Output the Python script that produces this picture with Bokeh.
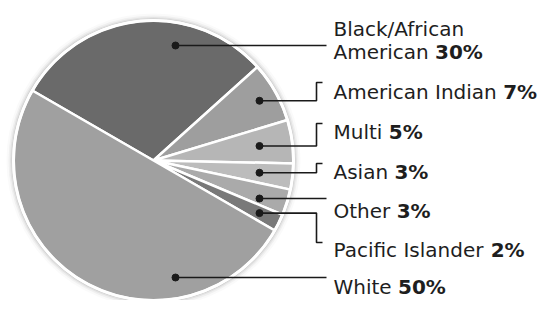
import math
from bokeh.plotting import figure
from bokeh.models import Range1d
from bokeh.embed import file_html
from bokeh.resources import INLINE
from bokeh.core.properties import value

# ---- data ----
categories = ["Black/African American", "American Indian", "Multi", "Asian",
              "Other", "Pacific Islander", "White"]
name_lines = [["Black/African", "American"], ["American Indian"], ["Multi"],
              ["Asian"], ["Other"], ["Pacific Islander"], ["White"]]
percents = [30, 7, 5, 3, 3, 2, 50]
shades = ["#6a6a6a", "#9e9e9e", "#b6b6b6", "#bcbcbc", "#aaaaaa", "#797979", "#a0a0a0"]

# ---- layout (canvas pixel coordinates, y downward) ----
W, H = 539, 300
CX, CY, R = 153, 160, 140
START_DEG = 150.0
TEXT_X = 333
FS = 20
tick_y = [45, 82, 123, 163, 198, 242, 277]
base_y = [[28, 51], [91], [131], [171], [210], [249], [286]]

def Y(py):
    return H - py

# DejaVu Sans advance widths (units / 2048)
ADV = {" ": 651, "A": 1401, "B": 1405, "I": 604, "M": 1767, "O": 1612, "P": 1235,
       "W": 2025, "a": 1255, "c": 1126, "d": 1300, "e": 1260, "f": 721, "h": 1298,
       "i": 569, "k": 1186, "l": 569, "m": 1995, "n": 1298, "r": 842, "s": 1067,
       "t": 803, "u": 1298, "/": 690}

def text_w(s):
    return sum(ADV.get(ch, 1200) for ch in s) * FS / 2048.0

p = figure(width=W, height=H, x_range=Range1d(0, W), y_range=Range1d(0, H),
           output_backend="svg", toolbar_location=None, min_border=0,
           outline_line_color=None, background_fill_color="white",
           border_fill_color="white")
p.axis.visible = False
p.grid.visible = False

# soft shadow around the pie
for k, a in [(7, 0.04), (5, 0.07), (3.5, 0.11), (2.2, 0.16)]:
    p.circle(x=[CX], y=[Y(CY)], radius=R + k, fill_color="#777777",
             fill_alpha=a, line_color=None)

# wedges
total = float(sum(percents))
cum = 0.0
mids = []
for v, c in zip(percents, shades):
    a0 = START_DEG - cum / total * 360.0
    a1 = START_DEG - (cum + v) / total * 360.0
    p.wedge(x=[CX], y=[Y(CY)], radius=R, start_angle=math.radians(a1),
            end_angle=math.radians(a0), fill_color=c, line_color="white",
            line_width=2.5)
    mids.append((a0 + a1) / 2.0)
    cum += v

p.circle(x=[CX], y=[Y(CY)], radius=R, fill_color=None, line_color="white",
         line_width=3)

# leaders
xs, ys, dx, dy = [], [], [], []
n = len(percents)
for i in range(n):
    ty = tick_y[i]
    if i == 0 or i == n - 1:
        px, py = CX + 22, ty
        xs.append([px, 326]); ys.append([Y(py), Y(py)])
    else:
        px = CX + 106
        py = CY - 106 * math.tan(math.radians(mids[i]))
        if abs(py - ty) < 6:
            py = ty
            xs.append([px, 326]); ys.append([Y(py), Y(py)])
        else:
            xs.append([px, 316, 316, 322]); ys.append([Y(py), Y(py), Y(ty), Y(ty)])
    dx.append(px); dy.append(Y(py))

p.multi_line(xs=xs, ys=ys, line_color="#1a1a1a", line_width=1.6)
p.scatter(x=dx, y=dy, size=7, fill_color="#1a1a1a", line_color="#1a1a1a")

# labels
nx, ny, nt, bx, by, bt = [], [], [], [], [], []
for i in range(n):
    for line, b in zip(name_lines[i], base_y[i]):
        nx.append(TEXT_X); ny.append(Y(b)); nt.append(line)
    last = name_lines[i][-1]
    bx.append(TEXT_X + text_w(last + " ")); by.append(Y(base_y[i][-1]))
    bt.append(f"{percents[i]}%")

p.text(x=nx, y=ny, text=nt, text_font=value("DejaVu Sans"), text_font_size=f"{FS}px",
       text_color="#1e1e1e", text_baseline="alphabetic", text_align="left")
p.text(x=bx, y=by, text=bt, text_font=value("DejaVu Sans"), text_font_size=f"{FS}px",
       text_font_style="bold", text_color="#1e1e1e", text_baseline="alphabetic",
       text_align="left")

open("out.html", "w").write(file_html(p, INLINE))
